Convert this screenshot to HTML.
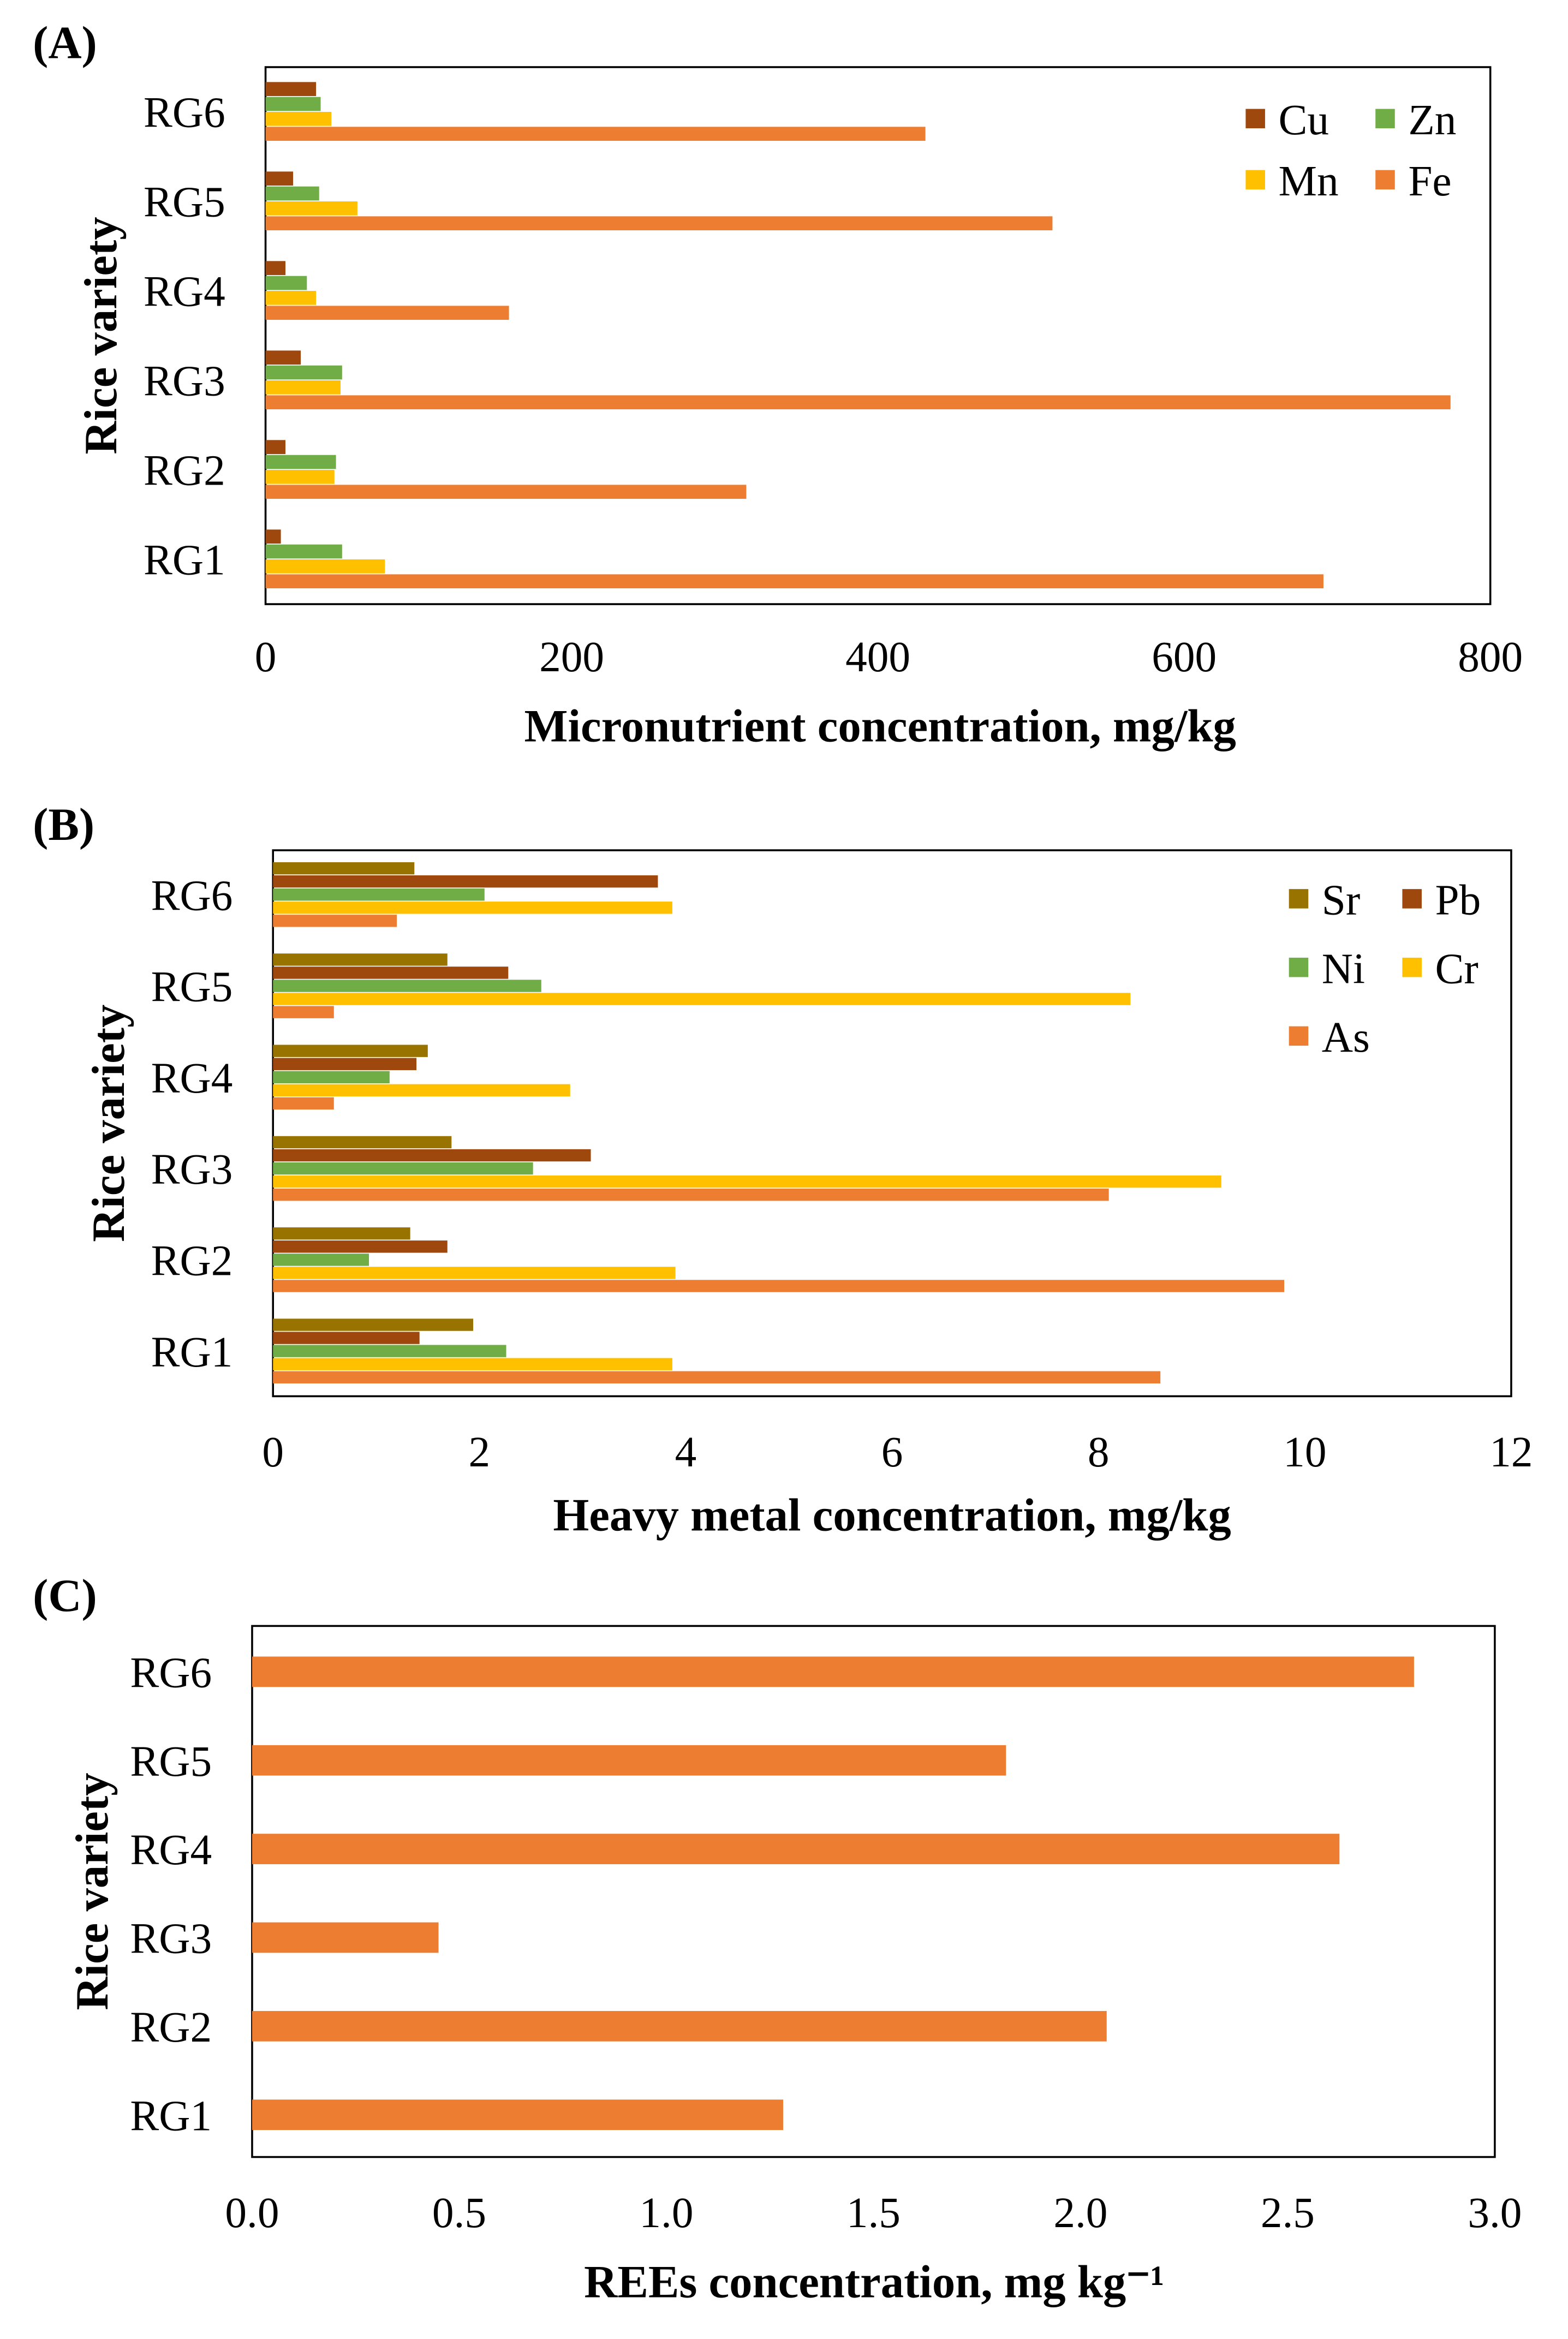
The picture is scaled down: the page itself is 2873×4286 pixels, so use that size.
<!DOCTYPE html>
<html><head><meta charset="utf-8">
<style>
html,body{margin:0;padding:0;background:#fff;}
svg{display:block;}
text{font-family:"Liberation Serif",serif;fill:#000;}
</style></head>
<body>
<svg id="fig" width="2873" height="4286" viewBox="0 0 1051 1568" preserveAspectRatio="xMinYMin meet" xmlns="http://www.w3.org/2000/svg"></svg>
<script>
const cats = ["RG1","RG2","RG3","RG4","RG5","RG6"];
// Panel A
const aCu = [10,13,23,13,18,33];
const aZn = [50,46,50,27,35,36];
const aMn = [78,45,49,33,60,43];
const aFe = [691,314,774,159,514,431];
const aTicks = [0,200,400,600,800];
// Panel B
const bSr = [1.94,1.33,1.73,1.5,1.69,1.37];
const bPb = [1.42,1.69,3.08,1.39,2.28,3.73];
const bNi = [2.26,0.93,2.52,1.13,2.6,2.05];
const bCr = [3.87,3.9,9.19,2.88,8.31,3.87];
const bAs = [8.6,9.8,8.1,0.59,0.59,1.2];
const bTicks = [0,2,4,6,8,10,12];
// Panel C
const cREE = [1.282,2.063,0.45,2.625,1.82,2.805];
const cTicks = [0,0.5,1,1.5,2,2.5,3];

const NS="http://www.w3.org/2000/svg";
const svg=document.getElementById('fig');
const FS=29, FT=31;
function mk(tag,attrs,parent){const e=document.createElementNS(NS,tag);for(const k in attrs)e.setAttribute(k,attrs[k]);(parent||svg).appendChild(e);return e;}
function txt(s,x,y,size,anchor,weight,parent){const t=mk('text',{x:x,y:y,'font-size':size,'text-anchor':anchor||'start','font-weight':weight||'normal'},parent);t.textContent=s;return t;}

function panel(cfg){
  const g=mk('g',{});
  
  
  const xs=v=>cfg.x0+(v-cfg.min)/(cfg.max-cfg.min)*(cfg.x1-cfg.x0);
  const step=(cfg.yBot-cfg.yTop)/(cats.length-1);
  const yc=i=>cfg.yBot-i*step;
  const frame=mk('rect',{x:cfg.x0,y:cfg.boxTop,width:cfg.x1-cfg.x0,height:cfg.boxBot-cfg.boxTop,fill:'none',stroke:'#000','stroke-width':1.3},g);
  
  
  const n=cfg.series.length, bh=cfg.bh, tot=n*bh;
  cats.forEach((c,i)=>{
    const l=txt(c,cfg.x0-27,yc(i)+10,FS,'end','normal',g);
    
    
    cfg.series.forEach((s,j)=>{
      const y=yc(i)-tot/2+j*bh;
      const r=mk('rect',{x:xs(0),y:y,width:Math.max(0,xs(s.data[i])-xs(0)),height:bh-0.6,fill:s.color},g);
      
      
    });
  });
  cfg.ticks.forEach(t=>{
    const l=txt(cfg.fmt(t),xs(t),cfg.tickY,FS,'middle','normal',g);
    
    
  });
  const xt=txt(cfg.xtitle,cfg.xtitleX,cfg.xtitleY,FT,'middle','bold',g);
  
  
  const yt=txt('Rice variety',0,0,FT,'middle','bold',g);
  yt.setAttribute('transform','translate('+cfg.ytitleX+','+(cfg.boxTop+cfg.boxBot)/2+') rotate(-90)');
  
  
  const pl=txt(cfg.letter,22,cfg.letterY,FT,'start','bold',g);
  
  
  (cfg.legend||[]).forEach(e=>{
    const s=cfg.series.find(q=>q.label===e.label);
    const sq=mk('rect',{x:e.x,y:e.y-7,width:13,height:13,fill:s.color},g);
    
    
    const lt=txt(e.label,e.x+22,e.y+10,FS,'start','normal',g);
    
    
  });
}

panel({name:'panel-a-micronutrients',letter:'(A)',letterY:39,x0:178,x1:999,min:0,max:800,boxTop:45,boxBot:405,
  yTop:75,yBot:375,bh:10,ticks:aTicks,fmt:v=>String(v),tickY:450,
  xtitle:'Micronutrient concentration, mg/kg',xtitleX:590,xtitleY:497,ytitleX:78,
  series:[{label:'Cu',data:aCu,color:'#9E480E'},{label:'Zn',data:aZn,color:'#70AD47'},{label:'Mn',data:aMn,color:'#FFC000'},{label:'Fe',data:aFe,color:'#ED7D31'}],
  legend:[{label:'Cu',x:835,y:80},{label:'Zn',x:922,y:80},{label:'Mn',x:835,y:121},{label:'Fe',x:922,y:121}]});

panel({name:'panel-b-heavy-metals',letter:'(B)',letterY:563,x0:183,x1:1013,min:0,max:12,boxTop:570,boxBot:936,
  yTop:600,yBot:906,bh:8.8,ticks:bTicks,fmt:v=>String(v),tickY:983,
  xtitle:'Heavy metal concentration, mg/kg',xtitleX:598,xtitleY:1026,ytitleX:83,
  series:[{label:'Sr',data:bSr,color:'#997300'},{label:'Pb',data:bPb,color:'#9E480E'},{label:'Ni',data:bNi,color:'#70AD47'},{label:'Cr',data:bCr,color:'#FFC000'},{label:'As',data:bAs,color:'#ED7D31'}],
  legend:[{label:'Sr',x:864,y:603},{label:'Pb',x:940,y:603},{label:'Ni',x:864,y:649},{label:'Cr',x:940,y:649},{label:'As',x:864,y:695}]});

panel({name:'panel-c-rees',letter:'(C)',letterY:1080,x0:169,x1:1002,min:0,max:3,boxTop:1090,boxBot:1446,
  yTop:1121,yBot:1418,bh:21,ticks:cTicks,fmt:v=>v.toFixed(1),tickY:1493,
  xtitle:'REEs concentration, mg kg\u207B\u00B9',xtitleX:586,xtitleY:1540,ytitleX:72,
  series:[{label:'REE',data:cREE,color:'#ED7D31'}]});
</script>
</body></html>
